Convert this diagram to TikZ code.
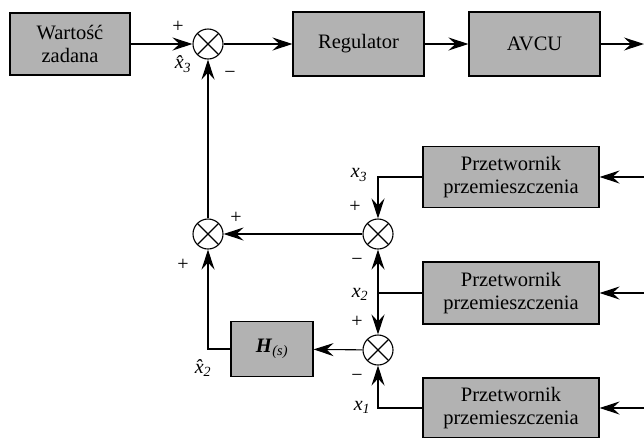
\documentclass[tikz,border=0pt]{standalone}
\usepackage{fontspec}
\setmainfont{Liberation Serif}
\usetikzlibrary{arrows.meta,positioning}
\definecolor{BoxGray}{RGB}{178,178,178}

\begin{document}
\begin{tikzpicture}[x=1pt,y=-1pt,line width=1.1pt,
    blok/.style={draw,fill=BoxGray,inner sep=0pt,align=center,
      font=\fontsize{20.5}{23}\selectfont},
    sumnode/.style={draw,circle,minimum size=30pt,inner sep=0pt,
      path picture={\draw[line width=1.1pt]
        (path picture bounding box.north west) -- (path picture bounding box.south east)
        (path picture bounding box.north east) -- (path picture bounding box.south west);}},
    arr/.style={-{Stealth[length=20pt,width=13pt,inset=7pt]}},
    znak/.style={font=\fontsize{20}{20}\selectfont},
    sygn/.style={font=\fontsize{20}{20}\selectfont\itshape}]
  \useasboundingbox (0,0) rectangle (644,437);
  % tor glowny
  \node[blok,minimum width=120pt,minimum height=62pt] (zad) at (70,44) {Wartość\\zadana};
  \node[sumnode] (s1) at (208,44) {};
  \node[blok,minimum width=131pt,minimum height=64pt] (reg) at (358.5,44) {Regulator};
  \node[blok,minimum width=131pt,minimum height=64pt] (avcu) at (534.5,44) {AVCU};
  \coordinate (wyj) at (644,44);
  % przetworniki
  \node[blok,minimum width=176pt,minimum height=61pt] (p1) at (511,177) {Przetwornik\\przemieszczenia};
  \node[blok,minimum width=176pt,minimum height=62pt] (p2) at (511,293) {Przetwornik\\przemieszczenia};
  \node[blok,minimum width=176pt,minimum height=60pt] (p3) at (511,408) {Przetwornik\\przemieszczenia};
  \coordinate (we1) at (644,177);
  \coordinate (we2) at (644,293);
  \coordinate (we3) at (644,408);
  \node[sumnode] (s2) at (208,234) {};
  \node[sumnode] (s3) at (378,234) {};
  \node[sumnode] (s4) at (378,350) {};
  \node[blok,minimum width=82pt,minimum height=55pt] (hs) at (272,349)
    {\textbf{\textit{H}}\textsubscript{\textit{(s)}}};

  \draw[arr] (zad) -- (s1);
  \draw[arr] (s1) -- (reg);
  \draw[arr] (reg) -- (avcu);
  \draw[arr] (avcu) -- (wyj);
  \draw[arr] (we1) -- (p1);
  \draw[arr] (we2) -- (p2);
  \draw[arr] (we3) -- (p3);
  \draw[arr] (p1.west) -| (s3);
  \draw[arr] (p2.west) -| (s3);
  \draw[arr] (p2.west) -| (s4);
  \draw[arr] (p3.west) -| (s4);
  \draw[arr] (s3) -- (s2);
  \draw[arr] (s4) -- (hs);
  \draw[arr] (hs.west) -| (s2);
  \draw[arr] (s2) -- (s1);

  % znaki i sygnaly
  \node[znak] (z1) at (178,27) {+};
  \node[znak] (z2) at (230,75) {−};
  \node[znak] (z3) at (236,218) {+};
  \node[znak] (z4) at (183,265) {+};
  \node[znak] (z5) at (355,207) {+};
  \node[znak] (z6) at (357,262) {−};
  \node[znak] (z7) at (357,322) {+};
  \node[znak] (z8) at (357,378) {−};
  \node[sygn] (xd3) at (183,64) {\^x\textsubscript{3}};
  \node[sygn] (x3) at (359,175) {x\textsubscript{3}};
  \node[sygn] (x2) at (360,294) {x\textsubscript{2}};
  \node[sygn] (x1) at (362,407) {x\textsubscript{1}};
  \node[sygn] (xd2) at (203,368) {\^x\textsubscript{2}};
\end{tikzpicture}
\end{document}
